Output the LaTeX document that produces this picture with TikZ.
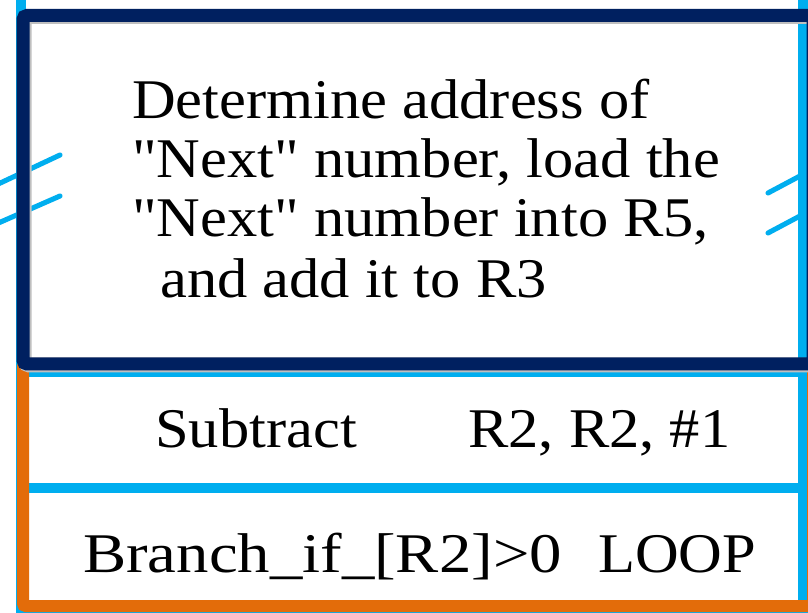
\documentclass[tikz,border=0pt]{standalone}
\usepackage{fontspec}
\setmainfont{Liberation Serif}[FakeStretch=1.08]
\newfontfamily\plainserif{Liberation Serif}[FakeStretch=1.08]
\definecolor{cyanl}{RGB}{0,174,239}
\definecolor{navyb}{RGB}{0,32,96}
\definecolor{orangeb}{RGB}{227,108,10}
\begin{document}
\begin{tikzpicture}[x=0.75pt,y=-0.75pt,
  txt/.style={anchor=base west,inner sep=0pt,font=\plainserif\fontsize{42pt}{48pt}\selectfont,text=black},
  brk/.style={draw=cyanl,line width=3.8pt,line cap=round}]
\useasboundingbox (0,0) rectangle (808,613);
\fill[white] (0,0) rectangle (808,613);
\begin{scope}
\clip (0,0) rectangle (808,613);
% cyan instruction block behind
\draw[cyanl,line width=7.5pt] (21,-20) rectangle (803,608);
\draw[cyanl,line width=7.5pt] (29,372) -- (806,372);
\draw[cyanl,line width=7.5pt] (29,488) -- (806,488);
% break marks
\draw[brk] (-5,185.5) -- (60,155);
\draw[brk] (-5,224.5) -- (60,196);
\draw[brk] (768,193) -- (815,168);
\draw[brk] (768,233) -- (815,208);
% orange box
\draw[orangeb,line width=9pt,rounded corners=2pt] (23,364) rectangle (813,606);
% navy shadow and box
\draw[black!25,line width=9.75pt,rounded corners=3pt] (25,17.5) rectangle (815,366);
\draw[navyb,line width=9.75pt,rounded corners=3pt] (23,15.5) rectangle (813,364);
\end{scope}
% text
\node[txt] (l1) at (132,119) {Determine address of};
\node[txt] (l2) at (132,178) {"Next" number, load the};
\node[txt] (l3) at (132,237) {"Next" number into R5,};
\node[txt] (l4) at (160,298) {and add it to R3};
\node[txt] (s1) at (155,447) {Subtract};
\node[txt] (s2) at (468,447) {R2, R2, \#1};
\node[txt] (b1) at (83,572) {\scalebox{1.07}[1]{Branch\_if\_[R2]>0}};
\node[txt] (b2) at (598,572) {LOOP};
\end{tikzpicture}
\end{document}
